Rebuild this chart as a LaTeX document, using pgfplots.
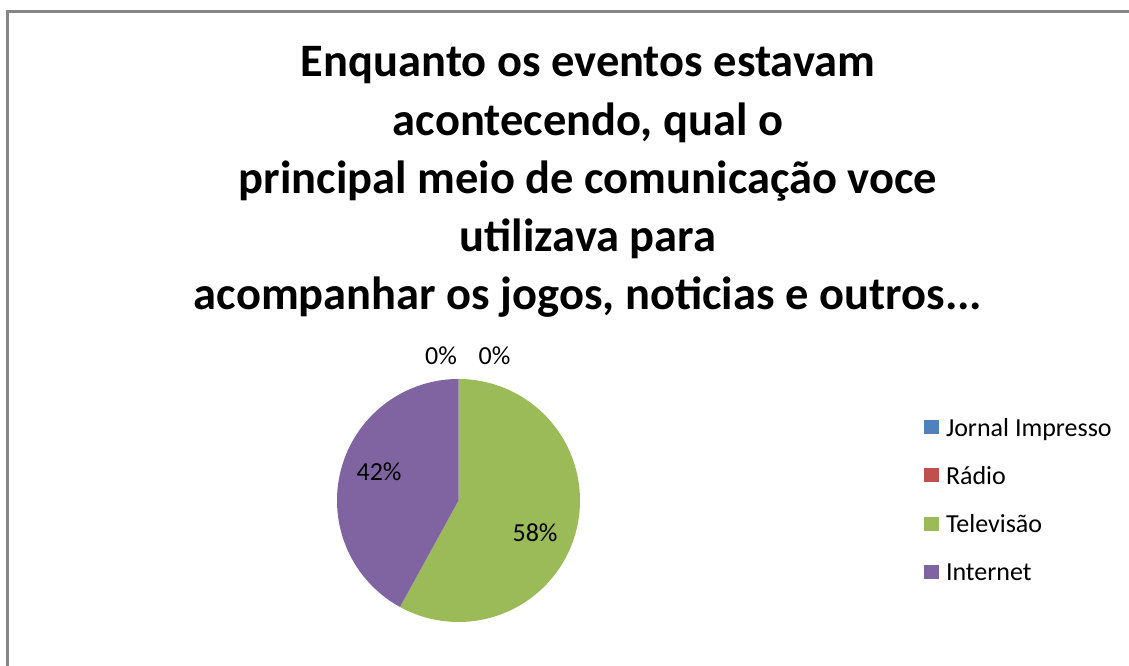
\documentclass[border=0pt]{standalone}
\usepackage{pgfplots}
\pgfplotsset{compat=1.18}
\usepackage{fontspec}
\setmainfont{Carlito}
\definecolor{cJornal}{HTML}{4F81BD}
\definecolor{cRadio}{HTML}{C0504D}
\definecolor{cTV}{HTML}{9BBB59}
\definecolor{cNet}{HTML}{8064A2}
\definecolor{frame}{HTML}{878787}
% data (percent)
\newcommand\vJornal{0}
\newcommand\vRadio{0}
\newcommand\vTV{58}
\newcommand\vNet{42}
\begin{document}
\begin{tikzpicture}[x=1pt,y=1pt]
\path[use as bounding box] (0,0) rectangle (1129,666);
\draw[line width=3pt, color=frame] (7.5,0) -- (7.5,654.3) -- (1129,654.3);
\begin{scope}[every node/.style={font=\fontsize{46.5}{58}\selectfont\bfseries, anchor=base, inner sep=0pt}]
\node at (588,589) {Enquanto os eventos estavam};
\node at (588,530.75) {acontecendo, qual o};
\node at (588,472.5) {principal meio de comunicação voce};
\node at (588,414.25) {utilizava para};
\node at (588,356) {acompanhar os jogos, noticias e outros...};
\end{scope}
\begin{axis}[at={(337pt,44pt)}, anchor=south west,
  width=243pt, height=243pt, scale only axis, hide axis,
  xmin=-1, xmax=1, ymin=-1, ymax=1, clip=false,
  legend image code/.code={\fill[#1] (0pt,-4pt) rectangle (15pt,10pt);},
  legend cell align=left,
  legend style={at={(2.4156,0.8391)}, anchor=north west, draw=none, fill=none,
    inner sep=0pt, outer sep=0pt, row sep=24.3pt, column sep=7pt,
    font=\fontsize{26}{31}\selectfont,
    nodes={inner sep=0pt, text height=18pt, text depth=6pt}},
  ]
\addlegendimage{fill=cJornal, draw=none}
\addlegendentry{Jornal Impresso}
\addlegendimage{fill=cRadio, draw=none}
\addlegendentry{Rádio}
\addplot[fill=cTV, draw=none, domain={90-3.6*\vTV}:90, samples=120, variable=\t]
  ({cos(t)},{sin(t)}) -- (axis cs:0,0) -- cycle;
\addlegendentry{Televisão}
\addplot[fill=cNet, draw=none, domain={90-3.6*(\vTV+\vNet)}:{90-3.6*\vTV}, samples=120, variable=\t]
  ({cos(t)},{sin(t)}) -- (axis cs:0,0) -- cycle;
\addlegendentry{Internet}
\begin{scope}[every node/.style={font=\fontsize{26}{31}\selectfont, inner sep=0pt}]
\node at (axis cs:-0.144,1.189) {\vJornal\%};
\node at (axis cs:0.296,1.189) {\vRadio\%};
\node at (axis cs:0.630,-0.267) {\vTV\%};
\node at (axis cs:-0.654,0.235) {\vNet\%};
\end{scope}
\end{axis}
\end{tikzpicture}
\end{document}
